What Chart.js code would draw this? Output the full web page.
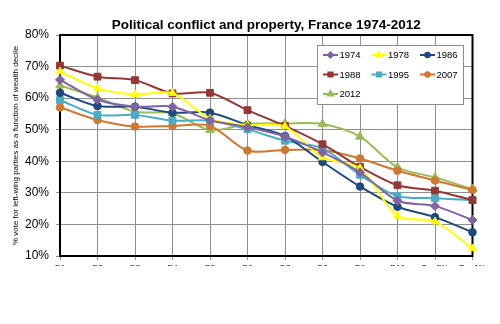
<!DOCTYPE html>
<html>
<head>
<meta charset="utf-8">
<script src="https://cdn.jsdelivr.net/npm/chart.js@4"></script>
<style>
  body { margin: 0; background: #fff; }
  /* the reference picture is cut just below the axis labels */
  #clip { position: relative; width: 500px; height: 266px; overflow: hidden; }
  #box { position: relative; width: 500px; height: 290px; }
</style>
</head>
<body>
<div id="clip"><div id="box"><canvas id="chart"></canvas></div></div>
<script>
// ====================== Data ======================
const LABELS = ["D1", "D2", "D3", "D4", "D5", "D6", "D7", "D8", "D9", "D10", "Top 5%", "Top 1%"];
const YEARS = ["1974", "1978", "1986", "1988", "1995", "2007", "2012"];

const V1974 = [65.8, 59.5, 57.3, 57.3, 53.0, 50.8, 47.8, 42.8, 36.5, 27.5, 25.8, 21.4];
const V1978 = [68.4, 63.1, 61.2, 61.6, 53.5, 51.5, 51.0, 41.2, 37.8, 22.7, 20.9, 12.4];
const V1986 = [61.7, 57.5, 57.3, 55.4, 55.4, 51.5, 48.0, 39.8, 32.0, 25.6, 22.3, 17.5];
const V1988 = [70.3, 66.8, 65.7, 61.5, 61.7, 56.2, 51.2, 45.4, 38.2, 32.4, 30.7, 27.7];
const V1995 = [59.4, 54.7, 54.7, 52.9, 52.9, 50.1, 46.5, 44.1, 35.7, 29.0, 28.3, 27.7];
const V2007 = [57.1, 53.1, 51.0, 51.2, 51.2, 43.4, 43.6, 43.6, 40.9, 37.0, 33.9, 30.9];
const V2012 = [64.0, 60.2, 55.7, 55.2, 49.9, 51.8, 52.0, 51.8, 47.8, 38.1, 34.9, 31.2];

const Y_TICKS = [10, 20, 30, 40, 50, 60, 70, 80];

// ====================== Styles ======================
const SERIES = [
  { data: V1974, color: "#8064a2", style: "rectRot", r: 4.5 },
  { data: V1978, color: "#ffff00", style: "triangle", r: 4.5 },
  { data: V1986, color: "#1f4a80", style: "circle", r: 3.8 },
  { data: V1988, color: "#953735", style: "rect", r: 4.8 },
  { data: V1995, color: "#4bacc6", style: "rect", r: 4.8 },
  { data: V2007, color: "#d0782f", style: "circle", r: 3.8 },
  { data: V2012, color: "#9bbb59", style: "triangle", r: 5 }
];

// black frame round the plot area, under the lines
const framePlugin = {
  id: "frame",
  beforeDatasetsDraw(chart) {
    const { ctx, chartArea: a } = chart;
    ctx.save();
    ctx.strokeStyle = "#000";
    ctx.lineWidth = 2;
    ctx.strokeRect(a.left, a.top, a.right - a.left, a.bottom - a.top);
    ctx.restore();
  }
};

// 3-column legend box inside the plot, top right
const legendPlugin = {
  id: "boxLegend",
  afterDraw(chart) {
    const { ctx, chartArea: a } = chart;
    const w = 146, h = 59;
    const x0 = a.right - 9.5 - w, y0 = a.top + 10;
    ctx.save();
    ctx.fillStyle = "#fff";
    ctx.fillRect(x0, y0, w, h);
    ctx.strokeStyle = "#8c8c8c";
    ctx.lineWidth = 1;
    ctx.strokeRect(x0 + 0.5, y0 + 0.5, w, h);
    ctx.font = "9.5px Arial, 'Liberation Sans', sans-serif";
    ctx.textBaseline = "middle";
    chart.data.datasets.forEach((ds, i) => {
      const col = i % 3, row = Math.floor(i / 3);
      const lx = x0 + 6 + col * 48.5;
      const ly = y0 + 10 + row * 19.5;
      ctx.strokeStyle = ds.borderColor;
      ctx.lineWidth = 2;
      ctx.beginPath();
      ctx.moveTo(lx, ly);
      ctx.lineTo(lx + 15, ly);
      ctx.stroke();
      ctx.fillStyle = ds.borderColor;
      Chart.helpers.drawPoint(ctx, {
        pointStyle: ds.pointStyle, radius: ds.pointRadius * 0.6, rotation: 0, borderWidth: 1
      }, lx + 7.5, ly);
      ctx.fillStyle = "#000";
      ctx.fillText(ds.label, lx + 16.5, ly + 0.5);
    });
    ctx.restore();
  }
};

// ====================== Chart ======================
new Chart(document.getElementById("chart"), {
  type: "line",
  data: {
    labels: LABELS,
    datasets: SERIES.map((s, i) => ({
      label: YEARS[i],
      data: s.data,
      borderColor: s.color,
      backgroundColor: s.color,
      borderWidth: 2,
      pointStyle: s.style,
      pointRadius: s.r,
      pointBorderWidth: 1,
      tension: 0.3,
      clip: false
    }))
  },
  options: {
    responsive: true,
    maintainAspectRatio: false,
    animation: false,
    layout: { padding: { left: 0, right: 27.5, top: 0, bottom: 0 } },
    plugins: {
      legend: { display: false },
      tooltip: { enabled: false },
      title: {
        display: true,
        fullSize: false,
        text: "Political conflict and property, France 1974-2012",
        color: "#000",
        font: { family: "Arial, 'Liberation Sans', sans-serif", size: 13.5, weight: "bold" },
        padding: { top: 17, bottom: 1.8 }
      }
    },
    scales: {
      x: {
        offset: false,
        grid: { color: "#8f8f8f", lineWidth: 1, tickLength: 4 },
        border: { display: false },
        ticks: {
          color: "#000",
          padding: 3,
          maxRotation: 0,
          autoSkip: false,
          font: { family: "Arial, 'Liberation Sans', sans-serif", size: 8 }
        },
        afterFit(scale) { scale.height = 34; }
      },
      y: {
        min: 10,
        max: 80,
        afterBuildTicks(scale) { scale.ticks = Y_TICKS.map(v => ({ value: v })); },
        grid: { color: "#8f8f8f", lineWidth: 1, tickLength: 4 },
        border: { display: false },
        ticks: {
          color: "#000",
          padding: 7,
          callback: v => v + "%",
          font: { family: "Arial, 'Liberation Sans', sans-serif", size: 12 }
        },
        title: {
          display: true,
          text: "% vote for left-wing parties as a function of wealth decile",
          color: "#000",
          padding: { top: 11, bottom: 0 },
          font: { family: "Arial, 'Liberation Sans', sans-serif", size: 8 }
        },
        afterFit(scale) { scale.width = 60; }
      }
    }
  },
  plugins: [framePlugin, legendPlugin]
});
</script>
</body>
</html>
